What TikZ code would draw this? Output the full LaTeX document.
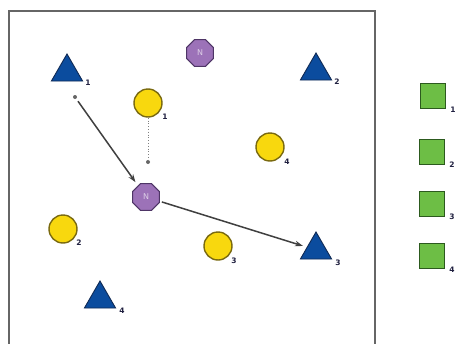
\documentclass[tikz,border=0pt]{standalone}
\usepackage{fontspec}
\setsansfont{DejaVu Sans}
\usetikzlibrary{shapes.geometric,arrows.meta}
\definecolor{triblue}{HTML}{0B4C9E}
\definecolor{triedge}{HTML}{102A55}
\definecolor{cyel}{HTML}{F8D80E}
\definecolor{cedge}{HTML}{7A6A10}
\definecolor{oct}{HTML}{9C72B8}
\definecolor{octedge}{HTML}{4E3566}
\definecolor{sqg}{HTML}{6DBE45}
\definecolor{sqedge}{HTML}{2C5A1E}
\definecolor{lbl}{HTML}{202040}
\tikzset{
  tri/.style={regular polygon, regular polygon sides=3, minimum size=36pt, inner sep=0pt, fill=triblue, draw=triedge, line width=0.9pt},
  ycirc/.style={circle, minimum size=28pt, inner sep=0pt, fill=cyel, draw=cedge, line width=1.4pt},
  octn/.style={regular polygon, regular polygon sides=8, minimum size=29pt, inner sep=0pt, fill=oct, draw=octedge, line width=1.1pt, text=oct!35!white, font=\sffamily\fontsize{8}{9}\selectfont},
  gsq/.style={rectangle, minimum size=25pt, inner sep=0pt, fill=sqg, draw=sqedge, line width=1.4pt},
  num/.style={text=lbl, font=\sffamily\bfseries\fontsize{7.5}{8}\selectfont, inner sep=0pt},
  frame/.style={draw=black!60, line width=2pt},
  conn/.style={draw=black!75, line width=1.5pt, -{Stealth[length=8pt,width=5.5pt]}},
  dotmark/.style={circle, fill=black!60, minimum size=4pt, inner sep=0pt},
}
\begin{document}
\begin{tikzpicture}[x=1pt,y=-1pt]
\useasboundingbox (0,0) rectangle (458,343);
\fill[white] (0,0) rectangle (458,343);
\draw[frame] (9,345) -- (9,11) -- (375,11) -- (375,345);

% triangles
\node[tri] (t1) at (67,72) {};
\node[num] (t1l) at (88,83) {1};
\node[tri] (t2) at (316,71) {};
\node[num] (t2l) at (337,82) {2};
\node[tri] (t3) at (316,250) {};
\node[num] (t3l) at (338,263) {3};
\node[tri] (t4) at (100,299) {};
\node[num] (t4l) at (122,311) {4};

% yellow circles
\node[ycirc] (c1) at (148,103) {};
\node[num] (c1l) at (165,117) {1};
\node[ycirc] (c4) at (270,147) {};
\node[num] (c4l) at (287,162) {4};
\node[ycirc] (c2) at (63,229) {};
\node[num] (c2l) at (79,243) {2};
\node[ycirc] (c3) at (218,246) {};
\node[num] (c3l) at (234,261) {3};

% octagons
\node[octn] (n1) at (200,53) {N};
\node[octn] (n2) at (146,197) {N};

% green squares
\node[gsq] (s1) at (433,96) {};
\node[num] (s1l) at (453,110) {1};
\node[gsq] (s2) at (432,152) {};
\node[num] (s2l) at (452,165) {2};
\node[gsq] (s3) at (432,204) {};
\node[num] (s3l) at (452,217) {3};
\node[gsq] (s4) at (432,256) {};
\node[num] (s4l) at (452,270) {4};

% small marks
\node[dotmark] (m1) at (75,97) {};
\node[dotmark] (m2) at (148,162) {};

% connectors
\draw[conn, shorten <=3pt, shorten >=4pt] (m1) -- (n2);
\draw[conn, shorten <=2pt, shorten >=4pt] (n2) -- (t3);
\draw[black!50, line width=0.8pt, dotted] (c1) -- (m2);
\end{tikzpicture}
\end{document}
